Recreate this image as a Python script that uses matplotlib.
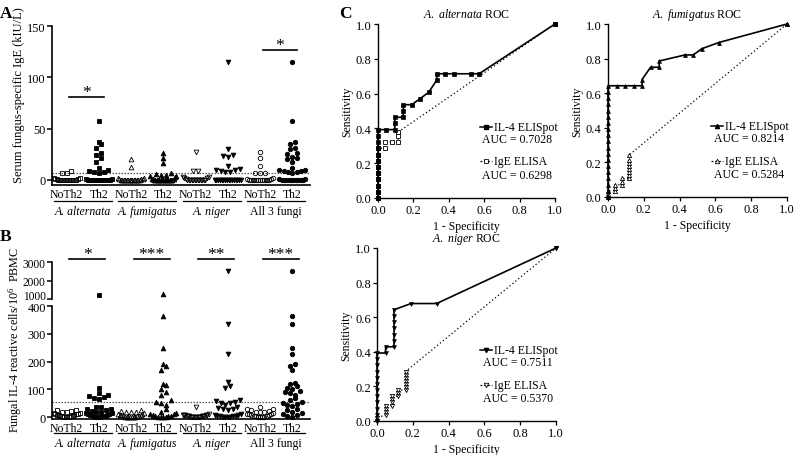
import numpy as np
import matplotlib
matplotlib.use('Agg')
import matplotlib.pyplot as plt
from matplotlib import transforms as mtrans

plt.rcParams['font.family'] = ['Liberation Serif', 'DejaVu Serif']
plt.rcParams['mathtext.fontset'] = 'custom'
plt.rcParams['mathtext.rm'] = 'Liberation Serif'
plt.rcParams['mathtext.it'] = 'Liberation Serif:italic'

# ---------------- data ----------------
group_names = ['A. alternata', 'A. fumigatus', 'A. niger', 'All 3 fungi']
group_italic = [True, True, True, False]
cat_labels = ['NoTh2', 'Th2', 'NoTh2', 'Th2', 'NoTh2', 'Th2', 'NoTh2', 'Th2']
group_markers = ['s', '^', 'v', 'o']

# Panel A: serum fungus-specific IgE (kIU/L)
ige_alt_no = [9, 7, 7, 2, 2, 1, 1, 1, 0, 0, 0, 0, 0, 0, 0, 0, 0, 0, 0, 0, 0]
ige_alt_th2 = [57, 37, 35, 31, 26, 24, 21, 17, 12, 10, 9, 8, 8, 7, 1, 1,
               0, 0, 0, 0, 0, 0, 0, 0, 0, 0, 0, 0]
ige_fum_no = [20, 13, 2, 2, 1, 1, 1, 0, 0, 0, 0, 0, 0, 0, 0, 0, 0, 0, 0, 0, 0]
ige_fum_th2 = [26, 21, 16, 7, 6, 5, 5, 4, 4, 3, 1, 1, 1,
               0, 0, 0, 0, 0, 0, 0, 0, 0, 0, 0, 0, 0, 0, 0]
ige_nig_no = [27, 9, 9, 3, 3, 2, 2, 1, 0, 0, 0, 0, 0, 0, 0, 0, 0, 0, 0, 0, 0]
ige_nig_th2 = [115, 30, 24, 23, 22, 14, 11, 10, 10, 9, 8, 8,
               0, 0, 0, 0, 0, 0, 0, 0, 0, 0, 0, 0, 0, 0, 0, 0]
ige_all_no = [27, 21, 14, 7, 7, 7, 2, 1, 1, 0, 0, 0, 0, 0, 0, 0, 0, 0, 0, 0, 0]
ige_all_th2 = [115, 57, 37, 35, 31, 30, 26, 25, 22, 21, 20, 17, 12, 10, 10, 9,
               9, 8, 8, 7, 1, 1, 0, 0, 0, 0, 0, 0, 0, 0, 0, 0]
ige_threshold = 7
ige_sig = [(0, 81, '*'), (3, 127, '*')]   # (group index, bar height, label)

# Panel B: fungal IL-4 reactive cells / 10^6 PBMC
il4_alt_no = [25, 25, 22, 20, 18, 15, 14, 12, 10, 10, 8, 8, 6, 5, 5, 4, 3, 2, 2, 1, 0]
il4_alt_th2 = [1200, 105, 85, 80, 75, 72, 68, 65, 38, 35, 30, 28, 25, 22, 20, 18,
               15, 14, 12, 10, 8, 6, 5, 4, 3, 2, 1, 0]
il4_fum_no = [25, 22, 20, 20, 18, 15, 12, 10, 8, 7, 6, 5, 4, 3, 2, 2, 1, 1, 0, 0, 0]
il4_fum_th2 = [1250, 365, 250, 190, 185, 170, 120, 115, 100, 90, 80, 60, 55, 50,
               45, 30, 20, 15, 12, 10, 8, 5, 5, 3, 2, 0, 0, 0]
il4_nig_no = [35, 10, 8, 8, 7, 6, 6, 5, 5, 4, 4, 3, 3, 2, 2, 2, 1, 1, 0, 0, 0]
il4_nig_th2 = [2500, 335, 228, 125, 112, 104, 60, 58, 55, 52, 50, 45, 35, 32,
               30, 28, 25, 10, 8, 6, 5, 5, 4, 3, 2, 1, 0, 0]
il4_all_no = [35, 30, 28, 25, 22, 20, 20, 18, 15, 12, 10, 10, 8, 6, 5, 4, 3, 2, 1, 0, 0]
il4_all_th2 = [2500, 365, 335, 250, 228, 190, 185, 168, 122, 118, 112, 105, 100,
               95, 90, 85, 80, 70, 62, 55, 52, 48, 45, 40, 30, 25, 20, 15, 12, 8, 5, 2]
il4_threshold = 55
il4_sig = [(0, '*'), (1, '***'), (2, '**'), (3, '***')]
il4_sig_height = 3160

# Panel C: ROC curves (1 - specificity, sensitivity)
alt_il4_x = [0, 0, 0, 0, 0, 0, 0, 0, 0, 0, 0, 0, 0.048, 0.095, 0.095, 0.095, 0.143,
             0.143, 0.143, 0.190, 0.238, 0.286, 0.333, 0.333, 0.381, 0.429, 0.524, 0.571, 1.0]
alt_il4_y = [0, 0.036, 0.071, 0.107, 0.143, 0.179, 0.214, 0.25, 0.286, 0.321, 0.357,
             0.393, 0.393, 0.393, 0.429, 0.464, 0.464, 0.5, 0.536, 0.536, 0.571, 0.607,
             0.679, 0.714, 0.714, 0.714, 0.714, 0.714, 1.0]
alt_ige_x = [0, 0, 0, 0, 0, 0, 0, 0, 0, 0.038, 0.038, 0.077, 0.115, 0.115, 0.115, 1.0]
alt_ige_y = [0, 0.036, 0.071, 0.107, 0.143, 0.179, 0.214, 0.25, 0.286, 0.286, 0.321,
             0.321, 0.321, 0.357, 0.38, 1.0]

fum_il4_x = [0, 0, 0, 0, 0, 0, 0, 0, 0, 0, 0, 0, 0, 0, 0, 0, 0, 0, 0, 0.048, 0.095,
             0.143, 0.190, 0.190, 0.238, 0.286, 0.286, 0.429, 0.476, 0.524, 0.619, 1.0]
fum_il4_y = [0, 0.036, 0.071, 0.107, 0.143, 0.179, 0.214, 0.25, 0.286, 0.321, 0.357,
             0.393, 0.429, 0.464, 0.5, 0.536, 0.571, 0.607, 0.643, 0.643, 0.643, 0.643,
             0.643, 0.679, 0.75, 0.75, 0.786, 0.821, 0.821, 0.857, 0.893, 1.0]
fum_ige_x = [0, 0, 0, 0.038, 0.038, 0.038, 0.077, 0.077, 0.077, 0.115, 0.115, 0.115,
             0.115, 0.115, 0.115, 0.115, 0.115, 1.0]
fum_ige_y = [0, 0.018, 0.036, 0.036, 0.054, 0.071, 0.071, 0.089, 0.107, 0.107, 0.125,
             0.143, 0.161, 0.179, 0.196, 0.214, 0.24, 1.0]

nig_il4_x = [0, 0, 0, 0, 0, 0, 0, 0, 0, 0, 0, 0, 0.048, 0.048, 0.095, 0.095, 0.095,
             0.095, 0.095, 0.095, 0.095, 0.190, 0.333, 1.0]
nig_il4_y = [0, 0.036, 0.071, 0.107, 0.143, 0.179, 0.214, 0.25, 0.286, 0.321, 0.357,
             0.393, 0.393, 0.429, 0.429, 0.464, 0.5, 0.536, 0.571, 0.607, 0.643, 0.679,
             0.679, 1.0]
nig_ige_x = [0, 0, 0.048, 0.048, 0.048, 0.048, 0.083, 0.083, 0.083, 0.083, 0.119,
             0.119, 0.119, 0.16, 0.16, 0.16, 0.16, 0.16, 0.16, 0.16, 1.0]
nig_ige_y = [0, 0.018, 0.036, 0.054, 0.071, 0.089, 0.089, 0.107, 0.125, 0.143, 0.143,
             0.161, 0.179, 0.179, 0.196, 0.214, 0.232, 0.25, 0.268, 0.286, 1.0]

roc_titles = ['A. alternata', 'A. fumigatus', 'A. niger']
auc_il4 = ['0.7028', '0.8214', '0.7511']
auc_ige = ['0.6298', '0.5284', '0.5370']
roc_markers_il4 = ['s', '^', 'v']
roc_markers_ige = ['s', '^', 'v']

# ---------------- figure ----------------
W, H = 800, 456
fig = plt.figure(figsize=(W / 100, H / 100), dpi=100)


def box(x0, x1, ytop, ybot):
    return [x0 / W, (H - ybot) / H, (x1 - x0) / W, (ybot - ytop) / H]


def swarm_x(ax, x0, vals, msize=4.4, maxhalf=13.0):
    vals = np.asarray(vals, float)
    xs = np.full(len(vals), float(x0))
    if len(vals) == 0:
        return xs
    T = ax.transData
    py = T.transform(np.column_stack([np.full(len(vals), x0), vals]))[:, 1]
    ppx = T.transform([(x0 + 1, 0)])[0, 0] - T.transform([(x0, 0)])[0, 0]
    order = np.argsort(py, kind='stable')
    rows, cur = [], [order[0]]
    for i in order[1:]:
        if py[i] - py[cur[0]] < msize:
            cur.append(i)
        else:
            rows.append(cur)
            cur = [i]
    rows.append(cur)
    for row in rows:
        n = len(row)
        if n == 1:
            continue
        half = min((n - 1) * msize * 0.55, maxhalf)
        offs = np.linspace(-half, half, n)
        offs = offs[np.argsort(np.abs(offs), kind='stable')]
        for j, i in enumerate(row):
            xs[i] = x0 + offs[j] / ppx
    return xs


def mstyle(marker, filled):
    ms = {'s': 3.0, '^': 3.4, 'v': 3.4, 'o': 3.2}[marker]
    return dict(marker=marker, ls='none', ms=ms, mec='black', mew=0.6,
                mfc='black' if filled else 'none', clip_on=False, zorder=3)


XLIM = (0.55, 8.55)
positions = [1, 2, 3, 4, 5, 6, 7, 8]


def style_scatter_axis(ax):
    for s in ['top', 'right']:
        ax.spines[s].set_visible(False)
    ax.spines['left'].set_linewidth(1.2)
    ax.spines['bottom'].set_linewidth(1.2)
    ax.tick_params(axis='y', direction='out', length=3.5, width=1.1, labelsize=8.8, pad=1)
    ax.set_xlim(*XLIM)


def draw_groups(ax, y_line, y_text, fs=8.5):
    trans = mtrans.blended_transform_factory(ax.transData, ax.transAxes)
    for g in range(4):
        c = positions[2 * g] + 0.5
        ax.plot([c - 0.9, c + 0.9], [y_line, y_line], color='black', lw=0.9,
                transform=trans, clip_on=False)
        ax.text(c, y_text, group_names[g], transform=trans, ha='center', va='center',
                fontsize=fs, style='italic' if group_italic[g] else 'normal')


def sig_text(ax, x, y, lab):
    tr = mtrans.offset_copy(ax.transData, fig=fig, x=0, y=0.4, units='points')
    ax.text(x, y, lab, transform=tr, ha='center', va='baseline', fontsize=12.5,
            clip_on=False)


# ---- Panel A ----
axA = fig.add_axes(box(52, 310, 27, 186))
style_scatter_axis(axA)
axA.set_ylim(-5, 150)
axA.set_yticks([0, 50, 100, 150])
axA.set_xticks(positions)
axA.set_xticklabels(cat_labels, fontsize=8.5)
axA.tick_params(axis='x', length=0, pad=2.5)
ige_sets = [ige_alt_no, ige_alt_th2, ige_fum_no, ige_fum_th2,
            ige_nig_no, ige_nig_th2, ige_all_no, ige_all_th2]
for k, vals in enumerate(ige_sets):
    g = k // 2
    xs = swarm_x(axA, positions[k], vals)
    axA.plot(xs, vals, **mstyle(group_markers[g], k % 2 == 1))
axA.axhline(ige_threshold, color='#555555', lw=0.9, ls=(0, (1.2, 1.2)), zorder=1)
for g, h, lab in ige_sig:
    x0, x1 = positions[2 * g] + 0.08, positions[2 * g + 1] + 0.15
    axA.plot([x0, x1], [h, h], color='black', lw=1.2, clip_on=False)
    sig_text(axA, (x0 + x1) / 2, h, lab)
draw_groups(axA, -0.10, -0.165)
fig.text(19 / W, (H - 95) / H, 'Serum fungus-specific IgE (kIU/L)', rotation=90,
         ha='center', va='center', fontsize=9)

# ---- Panel B ----
axBu = fig.add_axes(box(52, 310, 263, 300))
axBl = fig.add_axes(box(52, 310, 307, 420))
for ax in (axBu, axBl):
    style_scatter_axis(ax)
axBu.spines['bottom'].set_visible(False)
axBu.set_ylim(1000, 3000)
axBu.set_yticks([1000, 2000, 3000])
axBu.tick_params(axis='y', labelsize=8.3)
axBu.set_xticks([])
axBu.get_yticklabels()[0].set_verticalalignment('baseline')
axBl.set_ylim(-7, 400)
axBl.set_yticks([0, 100, 200, 300, 400])
axBl.set_xticks(positions)
axBl.set_xticklabels(cat_labels, fontsize=8.5)
axBl.tick_params(axis='x', length=0, pad=2.5)
il4_sets = [il4_alt_no, il4_alt_th2, il4_fum_no, il4_fum_th2,
            il4_nig_no, il4_nig_th2, il4_all_no, il4_all_th2]
for k, vals in enumerate(il4_sets):
    g = k // 2
    vals = np.asarray(vals, float)
    low = vals[vals <= 400]
    high = vals[vals > 400]
    xs = swarm_x(axBl, positions[k], low)
    axBl.plot(xs, low, **mstyle(group_markers[g], k % 2 == 1))
    if len(high):
        xh = swarm_x(axBu, positions[k], high)
        axBu.plot(xh, high, **mstyle(group_markers[g], k % 2 == 1))
axBl.axhline(il4_threshold, color='#555555', lw=0.9, ls=(0, (1.2, 1.2)), zorder=1)
for g, lab in il4_sig:
    x0, x1 = positions[2 * g] + 0.08, positions[2 * g + 1] + 0.2
    h = il4_sig_height
    axBu.plot([x0, x1], [h, h], color='black', lw=1.2, clip_on=False)
    sig_text(axBu, (x0 + x1) / 2, h, lab)
draw_groups(axBl, -0.12, -0.215)
fig.text(15 / W, (H - 340) / H, 'Fungal IL-4 reactive cells/10$^{6}$  PBMC', rotation=90,
         ha='center', va='center', fontsize=8.7)

# ---- Panel C ----
roc_boxes = [box(378, 555, 25, 199), box(608, 787, 25, 198), box(377, 556, 249, 422)]
roc_data = [(alt_il4_x, alt_il4_y, alt_ige_x, alt_ige_y),
            (fum_il4_x, fum_il4_y, fum_ige_x, fum_ige_y),
            (nig_il4_x, nig_il4_y, nig_ige_x, nig_ige_y)]
for i in range(3):
    ax = fig.add_axes(roc_boxes[i])
    for s in ['top', 'right']:
        ax.spines[s].set_visible(False)
    ax.spines['left'].set_linewidth(1.0)
    ax.spines['bottom'].set_linewidth(1.0)
    ax.set_xlim(0, 1)
    ax.set_ylim(0, 1)
    ticks = [0.0, 0.2, 0.4, 0.6, 0.8, 1.0]
    ax.set_xticks(ticks)
    ax.set_yticks(ticks)
    ax.set_xticklabels(['%.1f' % t for t in ticks])
    ax.set_yticklabels(['%.1f' % t for t in ticks])
    ax.tick_params(direction='out', length=3, width=0.9, labelsize=9, pad=1.5)
    x1, y1, x2, y2 = roc_data[i]
    ax.plot(x2, y2, color='black', lw=0.9, ls=(0, (1, 2)), marker=roc_markers_ige[i],
            ms=3.0, mfc='white', mec='black', mew=0.6, clip_on=False, zorder=3)
    ax.plot(x1, y1, color='black', lw=1.2, ls='-', marker=roc_markers_il4[i],
            ms=2.8, mfc='black', mec='black', mew=0.5, clip_on=False, zorder=4)
    ax.set_title(r'$\mathit{%s}$ ROC' % roc_titles[i].replace(' ', r'\ '),
                 fontsize=8.5, pad=5)
    ax.set_xlabel('1 - Specificity', fontsize=8.5, labelpad=3)
    ax.set_ylabel('Sensitivity', fontsize=8.5, labelpad=2)
    # legend drawn manually
    ax.plot([0.575, 0.645], [0.41, 0.41], color='black', lw=1.1, transform=ax.transAxes,
            clip_on=False)
    ax.plot([0.61], [0.41], marker=roc_markers_il4[i], ms=3.0, color='black',
            transform=ax.transAxes, clip_on=False)
    ax.text(0.655, 0.41, 'IL-4 ELISpot', transform=ax.transAxes, fontsize=8.5,
            ha='left', va='center')
    ax.text(0.59, 0.34, 'AUC = ' + auc_il4[i], transform=ax.transAxes, fontsize=8.5,
            ha='left', va='center')
    ax.plot([0.575, 0.645], [0.21, 0.21], color='black', lw=0.9, ls=(0, (1.5, 1.5)),
            transform=ax.transAxes, clip_on=False)
    ax.plot([0.61], [0.21], marker=roc_markers_ige[i], ms=3.2, mfc='white', mec='black',
            mew=0.6, transform=ax.transAxes, clip_on=False)
    ax.text(0.655, 0.21, 'IgE ELISA', transform=ax.transAxes, fontsize=8.5,
            ha='left', va='center')
    ax.text(0.59, 0.135, 'AUC = ' + auc_ige[i], transform=ax.transAxes, fontsize=8.5,
            ha='left', va='center')

# panel letters
fig.text(6 / W, (H - 14) / H, 'A', fontsize=12.5, fontweight='bold', ha='center', va='center')
fig.text(6 / W, (H - 237) / H, 'B', fontsize=12.5, fontweight='bold', ha='center', va='center')
fig.text(345 / W, (H - 14) / H, 'C', fontsize=12.5, fontweight='bold', ha='center', va='center')

fig.savefig('out.png', dpi=100)
